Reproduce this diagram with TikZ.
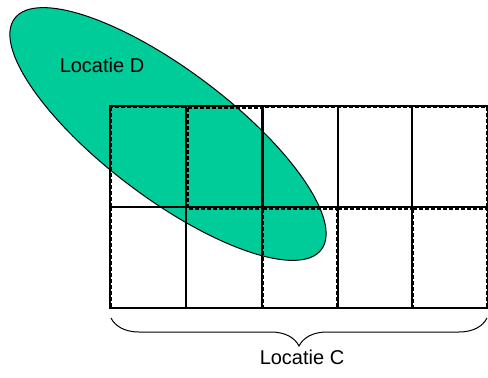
\documentclass[tikz,border=0pt]{standalone}
\usepackage{fontspec}
\setmainfont{Liberation Sans}
\usetikzlibrary{decorations.pathreplacing,positioning}
\definecolor{locgreen}{RGB}{0,204,153}

\tikzset{
  dashbox/.style={dash pattern=on 4pt off 2pt, line width=1.4pt},
  loclabel/.style={font=\fontsize{20}{24}\selectfont}
}

\begin{document}
\begin{tikzpicture}[x=1pt,y=-1pt,line width=1.2pt]
\useasboundingbox (0,0) rectangle (488,378);

% locatie D
\draw[fill=locgreen, line width=1pt, rotate around={-37:(168,134)}] (168,134) ellipse (192 and 64);
\node[loclabel] (locD) at (102,65) {Locatie D};

% dashed cells
\foreach \xa/\ya/\xb/\yb in {111/107/186/207, 188/108/263/209, 263/107/487/207,
    111/207/262/308, 263/209/337/308, 338/209/412/308, 413/209/487/308}
  \draw[dashbox] (\xa,\ya) rectangle (\xb,\yb);

% grid
\draw (110,106) rectangle (488,308);
\foreach \x in {186,262,338,412} \draw (\x,106) -- (\x,308);
\draw (110,207) -- (488,207);

% locatie C
\coordinate (bl) at (111,318);
\coordinate (br) at (487,318);
\draw[line width=1pt, decorate, decoration={brace, mirror, amplitude=28pt}] (bl) -- (br);
\node[loclabel] (locC) at (302,357) {Locatie C};

\end{tikzpicture}
\end{document}
